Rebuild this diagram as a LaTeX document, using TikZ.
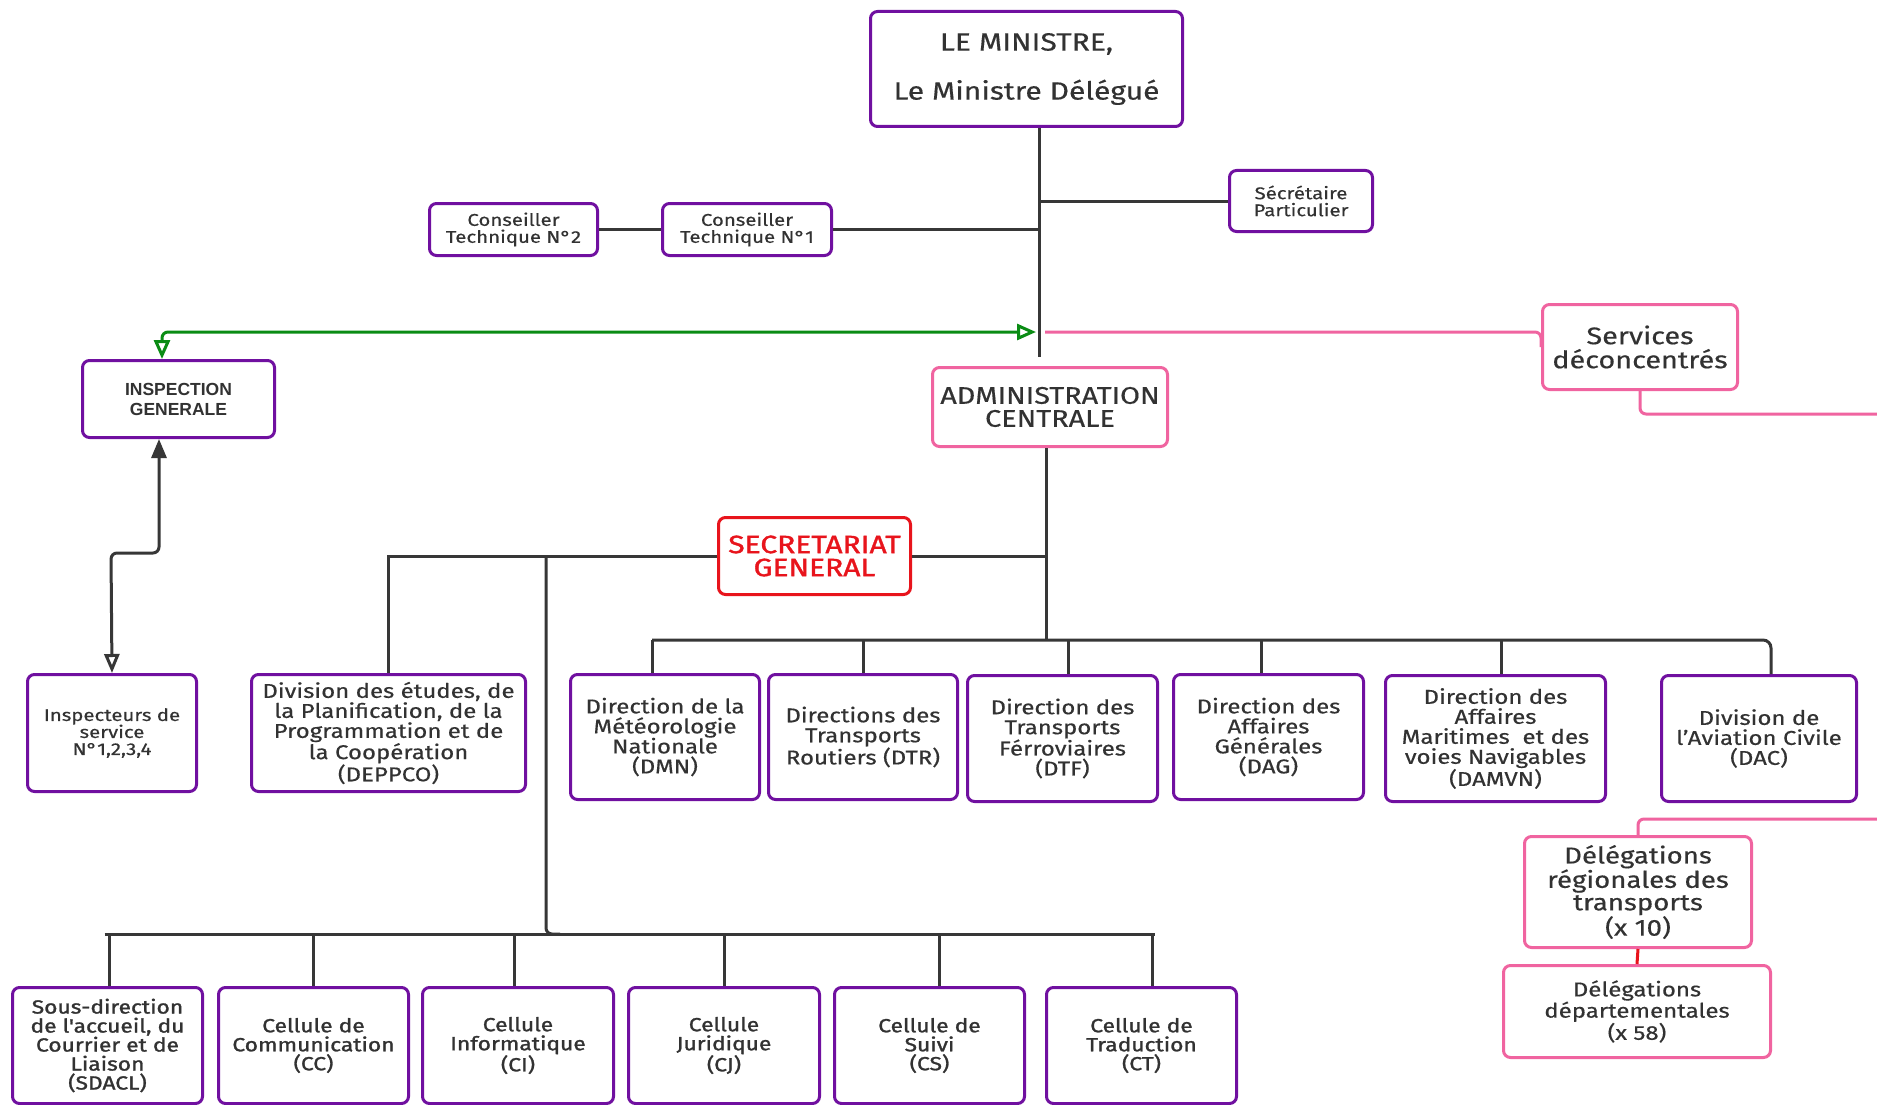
\documentclass[tikz,border=0pt]{standalone}
\usepackage{fontspec}
\setmainfont{Fira Sans}[FakeStretch=1.2, FakeBold=0.4]
\newfontfamily\heavyf{Fira Sans}[FakeStretch=1.2, FakeBold=1.4]
\newfontfamily\argf{Liberation Sans}
\usetikzlibrary{arrows.meta}
\definecolor{purp}{RGB}{112,16,160}
\definecolor{pinkc}{RGB}{240,100,160}
\definecolor{redc}{RGB}{232,20,28}
\definecolor{greenc}{RGB}{10,140,20}
\definecolor{txt}{RGB}{50,50,50}
\definecolor{linec}{RGB}{55,55,55}
\tikzset{
  box/.style={draw=purp, line width=3pt, rounded corners=7pt, fill=white, align=center,
    text=txt, inner sep=2pt, anchor=north west},
  pbox/.style={box, draw=pinkc},
  rbox/.style={box, draw=redc, text=redc},
  fs/.style={font={\fontsize{#1}{#1}\selectfont}},
  hfs/.style={font={\heavyf\fontsize{#1}{#1}\selectfont}},
  conn/.style={draw=linec, line width=3pt},
  pconn/.style={draw=pinkc, line width=3pt, rounded corners=6pt},
  gconn/.style={draw=greenc, line width=3pt, rounded corners=6pt},
}
\begin{document}
\begin{tikzpicture}[x=1pt,y=-1pt]
\useasboundingbox[fill=white] (0,0) rectangle (1877,1105);
% top
\node[box, minimum width=312, minimum height=115, font={\fontsize{25}{49}\selectfont}] (min) at (869,10) {LE MINISTRE,\\Le Ministre Délégué};
\node[box, minimum width=143, minimum height=61, fs=17] (sp) at (1228,169) {Sécrétaire\\Particulier};
\node[box, minimum width=168, minimum height=52, fs=17] (ct2) at (428,202) {Conseiller\\Technique N°2};
\node[box, minimum width=169, minimum height=52, fs=17] (ct1) at (661,202) {Conseiller\\Technique N°1};
\node[pbox, minimum width=195, minimum height=85, fs=24] (sd) at (1541,303) {Services\\déconcentrés};
\node[pbox, minimum width=235, minimum height=79, font={\fontsize{24}{23}\selectfont}] (ac) at (931,366) {ADMINISTRATION\\CENTRALE};
\node[box, minimum width=192, minimum height=77, font={\argf\bfseries\fontsize{17.5}{20}\selectfont}] (ig) at (81,359) {INSPECTION\\GENERALE};
\node[rbox, minimum width=192, minimum height=77, font={\heavyf\fontsize{25}{23}\selectfont}] (sg) at (717,516) {SECRETARIAT\\GENERAL};
% middle row
\node[box, minimum width=169, minimum height=117, fs=17] (ins) at (26,673) {Inspecteurs de\\service\\N°1,2,3,4};
\node[box, minimum width=274, minimum height=117, fs=20] (dep) at (250,673) {Division des études, de\\la Planification, de la\\Programmation et de\\la Coopération\\(DEPPCO)};
\node[box, minimum width=189, minimum height=125, fs=20] (dmn) at (569,673) {Direction de la\\Météorologie\\Nationale\\(DMN)};
\node[box, minimum width=189, minimum height=125, fs=20] (dtr) at (767,673) {Directions des\\Transports\\Routiers (DTR)};
\node[box, minimum width=190, minimum height=126, fs=20] (dtf) at (966,674) {Direction des\\Transports\\Férroviaires\\(DTF)};
\node[box, minimum width=190, minimum height=125, fs=20] (dag) at (1172,673) {Direction des\\Affaires\\Générales\\(DAG)};
\node[box, minimum width=220, minimum height=126, fs=20] (damvn) at (1384,674) {Direction des\\Affaires\\Maritimes\ \ et des\\voies Navigables\\(DAMVN)};
\node[box, minimum width=195, minimum height=126, fs=20] (dac) at (1660,674) {Division de\\l'Aviation Civile\\(DAC)};
\node[pbox, minimum width=227, minimum height=111, font={\fontsize{23}{22.5}\selectfont}] (dr) at (1523,835) {Délégations\\régionales des\\transports\\(x 10)};
\node[pbox, minimum width=267, minimum height=92, fs=20] (dd) at (1502,964) {Délégations\\départementales\\(x 58)};
% bottom row
\node[box, minimum width=190, minimum height=116, hfs=19] (sdacl) at (11,986) {Sous-direction\\de l'accueil, du\\Courrier et de\\Liaison\\(SDACL)};
\node[box, minimum width=190, minimum height=116, hfs=19] (cc) at (217,986) {Cellule de\\Communication\\(CC)};
\node[box, minimum width=191, minimum height=116, hfs=19] (ci) at (421,986) {Cellule\\Informatique\\(CI)};
\node[box, minimum width=191, minimum height=116, hfs=19] (cj) at (627,986) {Cellule\\Juridique\\(CJ)};
\node[box, minimum width=190, minimum height=116, hfs=19] (cs) at (833,986) {Cellule de\\Suivi\\(CS)};
\node[box, minimum width=190, minimum height=116, hfs=19] (ct) at (1045,986) {Cellule de\\Traduction\\(CT)};
% helper coordinates
\coordinate (vx) at (1039,0);
\coordinate (vend) at (1039,357);
\coordinate (gend) at (1036,332);
\coordinate (pstart) at (1045,332);
\coordinate (gx) at (162,0);
\coordinate (ax) at (159,0);
\coordinate (kink) at (111,553);
\coordinate (dbar) at (0,640);
\coordinate (bbar) at (0,934);
\coordinate (sgjx) at (546,0);
\coordinate (sgj) at (sg.west -| sgjx);
\coordinate (pr1) at (1877,414);
\coordinate (pr2) at (1877,819);
% connectors top
\draw[conn] (min.south -| vx) -- (vend);
\draw[conn] (sp.west) -- (sp.west -| vx);
\draw[conn] (ct1.east) -- (ct1.east -| vx);
\draw[conn] (ct2.east) -- (ct1.west);
\draw[gconn, {Triangle[open, length=19pt, width=16pt]}-{Triangle[open, length=19pt, width=16pt]}] (gend) -| (ig.north -| gx);
\draw[pconn] (pstart) -| (sd.west);
\draw[pconn] (sd.south) |- (pr1);
\draw[pconn] (dr.north) |- (pr2);
\draw[draw=redc, line width=3pt] (dr.south) -- (dd.north);
\draw[conn, rounded corners=6pt, {Triangle[length=19pt, width=15pt]}-{Triangle[open, length=19pt, width=15pt]}] (ig.south -| ax) |- (kink) -- (ins.north);
% admin / SG
\draw[conn] ([xshift=-4pt]ac.south) -- ([xshift=-4pt]ac.south |- dbar);
\draw[conn] (sg.east) -- ([xshift=-4pt]sg.east -| ac.south);
\draw[conn] (sg.west) -| (dep.north);
\draw[conn, rounded corners=6pt] (sgj) |- ([xshift=14pt]sgj |- bbar);
% direction bar
\draw[conn, rounded corners=8pt] ([xshift=-13pt]dmn.north |- dbar) -| ([xshift=12pt]dac.north);
\draw[conn] ([xshift=-13pt]dmn.north) -- ([xshift=-13pt]dmn.north |- dbar);
\draw[conn] (dtr.north) -- (dtr.north |- dbar);
\draw[conn] ([xshift=6pt]dtf.north) -- ([xshift=6pt]dtf.north |- dbar);
\draw[conn] ([xshift=-7pt]dag.north) -- ([xshift=-7pt]dag.north |- dbar);
\draw[conn] ([xshift=6pt]damvn.north) -- ([xshift=6pt]damvn.north |- dbar);
% bottom bar
\draw[conn] ([xshift=-3pt]sdacl.north |- bbar) -- ([xshift=13pt]ct.north |- bbar);
\draw[conn] ([xshift=2pt]sdacl.north) -- ([xshift=2pt]sdacl.north |- bbar);
\draw[conn] (cc.north) -- (cc.north |- bbar);
\draw[conn] ([xshift=-4pt]ci.north) -- ([xshift=-4pt]ci.north |- bbar);
\draw[conn] (cj.north) -- (cj.north |- bbar);
\draw[conn] ([xshift=10pt]cs.north) -- ([xshift=10pt]cs.north |- bbar);
\draw[conn] ([xshift=11pt]ct.north) -- ([xshift=11pt]ct.north |- bbar);
\end{tikzpicture}
\end{document}
